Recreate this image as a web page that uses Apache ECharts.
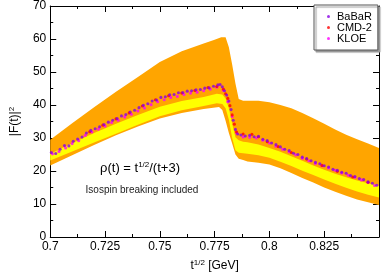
<!DOCTYPE html>
<html><head><meta charset="utf-8">
<script src="https://cdn.jsdelivr.net/npm/echarts@6/dist/echarts.min.js"></script>
<style>html,body{margin:0;padding:0;background:#fff}#c{width:382px;height:278px}</style>
</head><body><div id="c"></div>
<script>
// ---- data ----
const xMin = 0.7, xMax = 0.85, xStep = 0.025;
const yMin = 0, yMax = 70, yStep = 10;

// orange (outer) band
const orangeT  = [0.700,0.710,0.720,0.730,0.740,0.750,0.760,0.770,0.775,0.778,0.780,0.7815,0.783,0.7845,0.786,0.788,0.790,0.795,0.800,0.805,0.810,0.815,0.820,0.825,0.830,0.835,0.840,0.845,0.850];
const orangeHi = [29.5,34.5,39.3,44.0,48.5,53.0,56.3,58.6,59.8,60.5,60.5,57.5,52.3,46.5,41.8,41.3,41.3,41.3,40.8,40.0,39.0,37.6,36.0,34.3,32.6,31.0,29.6,28.3,27.0];
const orangeLoT = [0.700,0.710,0.720,0.730,0.740,0.750,0.760,0.770,0.777,0.7785,0.780,0.7815,0.783,0.7845,0.786,0.788,0.790,0.795,0.800,0.805,0.810,0.815,0.820,0.825,0.830,0.835,0.840,0.845,0.850];
const orangeLo = [21.7,24.8,27.9,30.8,33.5,35.9,37.6,38.8,39.4,38.5,35.2,31.5,28.3,25.0,23.7,23.3,22.9,22.5,22.0,20.8,19.4,17.9,16.5,15.0,13.7,12.5,11.4,10.5,9.7];

// yellow (inner) band
const yellowT  = [0.700,0.710,0.720,0.730,0.740,0.750,0.760,0.770,0.776,0.7785,0.780,0.7815,0.783,0.7845,0.786,0.788,0.790,0.795,0.800,0.805,0.810,0.815,0.820,0.825,0.830,0.835,0.840,0.845,0.850];
const yellowHi = [25.2,28.4,31.5,34.3,37.0,39.5,41.2,42.4,43.4,43.2,42.0,39.0,34.3,30.2,29.3,28.9,28.7,28.0,27.0,25.8,24.5,23.1,21.7,20.4,19.2,18.1,17.1,16.3,15.6];
const yellowLo = [23.2,25.9,28.6,31.3,34.0,36.6,38.4,39.7,40.5,40.3,39.0,35.5,30.0,26.3,25.5,25.4,25.2,24.8,24.0,22.8,21.5,20.1,18.8,17.4,16.1,14.9,13.8,12.8,12.0];

// data points
const babarT = [0.7005,0.7025,0.7045,0.7065,0.7085,0.7105,0.7125,0.7145,0.7165,0.7185,0.7205,0.7225,0.7245,0.7265,0.7285,0.7305,0.7325,0.7345,0.7365,0.7385,0.7405,0.7425,0.7445,0.7465,0.7485,0.7505,0.7525,0.7545,0.7565,0.7585,0.7605,0.7625,0.7645,0.7665,0.7685,0.7705,0.7725,0.7745,0.7765,0.7775,0.7785,0.7795,0.7805,0.7815,0.7825,0.7835,0.7845,0.7855,0.7870,0.7890,0.7910,0.7930,0.7950,0.7970,0.7990,0.8010,0.8030,0.8050,0.8070,0.8090,0.8110,0.8130,0.8150,0.8170,0.8190,0.8210,0.8230,0.8250,0.8270,0.8290,0.8310,0.8330,0.8350,0.8370,0.8390,0.8410,0.8430,0.8450,0.8470,0.8490];
const babarV = [25.6,25.3,26.6,27.7,27.6,29.0,29.7,30.3,31.5,32.3,32.8,33.4,34.1,34.8,35.4,35.9,36.7,37.1,37.9,38.4,39.2,39.9,40.4,41.2,41.5,42.3,42.5,43.1,43.2,43.7,43.8,44.2,44.3,44.6,44.7,45.1,45.2,45.7,46.1,46.2,45.5,44.3,43.0,41.2,38.6,35.4,32.6,31.2,30.9,30.6,30.8,30.4,30.5,29.6,29.2,28.5,28.0,27.3,26.6,26.2,25.4,25.0,24.2,23.8,23.1,22.6,22.2,21.6,21.2,20.5,20.2,19.6,19.3,18.6,18.3,17.7,17.4,16.7,16.3,15.7];

const cmd2T = [0.7180,0.7240,0.7300,0.7360,0.7420,0.7480,0.7540,0.7600,0.7660,0.7720,0.7760,0.7790,0.7800,0.7810,0.7820,0.7830,0.7840,0.7850,0.7880,0.7920,0.7950,0.7990,0.8040,0.8100,0.8170,0.8240,0.8310,0.8380,0.8450];
const cmd2V = [31.9,33.9,35.8,37.6,39.7,41.6,42.8,43.6,44.4,45.3,45.6,44.8,43.4,42.0,39.8,37.0,34.2,31.8,31.2,31.1,30.4,28.9,27.4,25.6,23.6,21.7,19.9,18.2,16.6];

const kloeT = [0.7010,0.7040,0.7070,0.7100,0.7130,0.7160,0.7190,0.7220,0.7250,0.7280,0.7310,0.7340,0.7370,0.7400,0.7430,0.7460,0.7490,0.7520,0.7550,0.7580,0.7610,0.7640,0.7670,0.7700,0.7730,0.7760,0.7790,0.7810,0.7830,0.7850,0.7880,0.7910,0.7940,0.7970,0.8000,0.8030,0.8060,0.8090,0.8120,0.8150,0.8180,0.8210,0.8240,0.8270,0.8300,0.8330,0.8360,0.8390,0.8420,0.8450,0.8480];
const kloeV = [25.2,25.9,27.0,28.3,29.2,30.8,31.8,32.7,33.6,34.7,35.4,36.4,37.2,38.2,39.1,40.1,41.0,41.6,42.3,42.6,43.2,43.6,43.9,44.3,44.8,45.4,44.5,41.0,36.5,31.6,30.3,30.2,30.0,29.3,28.5,27.5,26.6,25.8,24.9,23.9,23.1,22.3,21.6,20.9,20.2,19.4,18.7,18.1,17.3,16.5,15.6];

const seriesNames = ['BaBaR','CMD-2','KLOE'];
// ------------------------------------

const FONT = '"Liberation Sans", Arial, Helvetica, sans-serif';
const chart = echarts.init(document.getElementById('c'), null, {renderer:'canvas'});

function band(name, tHi, hi, tLo, lo, color) {
  return {
    type:'custom', name, silent:true, z:1, clip:true,
    data: tHi.map((t,i)=>[t, hi[i]]),
    encode:{x:0, y:1},
    renderItem(params, api) {
      if (params.dataIndex !== 0) return null;
      const pts = [];
      for (let i=0;i<tHi.length;i++) pts.push(api.coord([tHi[i], hi[i]]));
      for (let i=tLo.length-1;i>=0;i--) pts.push(api.coord([tLo[i], lo[i]]));
      return {type:'polygon', shape:{points:pts}, style:{fill:color, stroke:null}};
    }
  };
}
function pts(name, ts, vs, color) {
  return {type:'scatter', name, data: ts.map((t,i)=>[t, vs[i]]), symbol:'circle', symbolSize:3.1,
    itemStyle:{color}, z:3, animation:false};
}
const fmt = v => String(+v.toFixed(3));
const axisCommon = {
  axisLine:{show:true, onZero:false, lineStyle:{color:'#000', width:1}},
  axisTick:{show:true, inside:true, length:6, lineStyle:{color:'#000'}},
  minorTick:{show:true, splitNumber:2, length:3, lineStyle:{color:'#000'}},
  splitLine:{show:false}, minorSplitLine:{show:false}
};
const supRich = {s:{fontSize:8, verticalAlign:'top', fontFamily:FONT, color:'#000'}};

chart.setOption({
  animation:false,
  backgroundColor:'#fff',
  grid:{left:36, right:3, top:5, bottom:34},
  xAxis:[
    Object.assign({type:'value', min:xMin, max:xMax, interval:xStep, position:'bottom',
      axisLabel:{color:'#000', fontSize:12, fontFamily:FONT, margin:4, formatter:fmt, showMaxLabel:false},
      name:'t{s|1/2} [GeV]', nameLocation:'middle', nameGap:22,
      nameTextStyle:{color:'#000', fontSize:12, fontFamily:FONT, lineHeight:14, rich:supRich}}, axisCommon),
    Object.assign({type:'value', min:xMin, max:xMax, interval:xStep, position:'top',
      axisLabel:{show:false}}, axisCommon)
  ],
  yAxis:[
    Object.assign({type:'value', min:yMin, max:yMax, interval:yStep, position:'left',
      axisLabel:{color:'#000', fontSize:12, fontFamily:FONT, margin:4},
      name:'|F(t)|{s|2}', nameLocation:'middle', nameGap:20, nameRotate:90,
      nameTextStyle:{color:'#000', fontSize:12, fontFamily:FONT, lineHeight:14, rich:supRich}}, axisCommon),
    Object.assign({type:'value', min:yMin, max:yMax, interval:yStep, position:'right',
      axisLabel:{show:false}}, axisCommon)
  ],
  legend:{
    data:seriesNames, left:314, top:5, orient:'vertical',
    padding:[6,6,6,13], itemGap:0, itemWidth:3, itemHeight:3, icon:'circle',
    textStyle:{fontSize:11, fontFamily:FONT, color:'#000', lineHeight:10, height:10, padding:[0,0,0,2]},
    backgroundColor:'#fff', borderColor:'#555', borderWidth:1,
    shadowColor:'#999', shadowOffsetX:2, shadowOffsetY:2, shadowBlur:1
  },
  graphic:[
    {type:'text', x:140, y:168, z:10,
      style:{text:'ρ(t) = t{s|1/2}/(t+3)', fontSize:13, fontFamily:FONT, fill:'#000',
        align:'center', verticalAlign:'middle', lineHeight:15,
        rich:{s:{fontSize:8, verticalAlign:'top', fontFamily:FONT, fill:'#000'}}}},
    {type:'text', x:142, y:190, z:10,
      style:{text:'Isospin breaking included', fontSize:10, fontFamily:FONT, fill:'#222',
        align:'center', verticalAlign:'middle'}}
  ],
  series:[
    band('orange', orangeT, orangeHi, orangeLoT, orangeLo, '#ffa500'),
    band('yellow', yellowT, yellowHi, yellowT, yellowLo, '#ffff00'),
    pts('KLOE', kloeT, kloeV, '#ff00ff'),
    pts('CMD-2', cmd2T, cmd2V, '#ff0000'),
    pts('BaBaR', babarT, babarV, '#8a00e6')
  ]
});
</script></body></html>
